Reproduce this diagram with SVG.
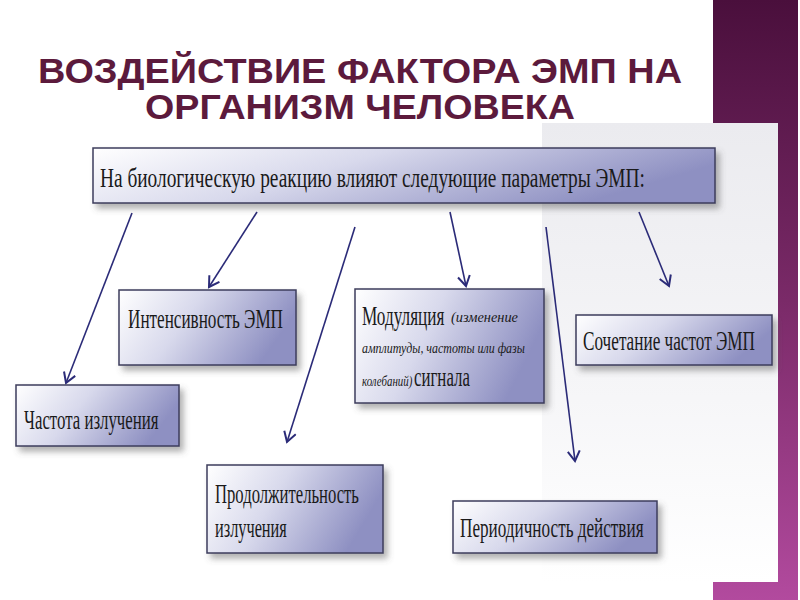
<svg xmlns="http://www.w3.org/2000/svg" width="800" height="600" viewBox="0 0 800 600">
<defs>
<linearGradient id="band" x1="0" y1="0" x2="0" y2="1">
<stop offset="0" stop-color="#4a0f3c"/>
<stop offset="0.5" stop-color="#7a2a68"/>
<stop offset="1" stop-color="#b24a9e"/>
</linearGradient>
<linearGradient id="gray" x1="0" y1="0" x2="0" y2="1">
<stop offset="0" stop-color="#ebebef"/>
<stop offset="0.6" stop-color="#f6f6f8"/>
<stop offset="1" stop-color="#ffffff"/>
</linearGradient>
<linearGradient id="boxfill" x1="0" y1="0" x2="1" y2="0.3">
<stop offset="0" stop-color="#ffffff"/>
<stop offset="0.45" stop-color="#d8d9ec"/>
<stop offset="1" stop-color="#8e90c2"/>
</linearGradient>
<filter id="sh" x="-10%" y="-20%" width="125%" height="150%">
<feDropShadow dx="4" dy="5" stdDeviation="3" flood-color="#555" flood-opacity="0.45"/>
</filter>
<marker id="arr" markerWidth="14" markerHeight="14" refX="11" refY="7" orient="auto" markerUnits="userSpaceOnUse">
<path d="M1,1 L11,7 L1,13" fill="none" stroke="#2b2b78" stroke-width="2"/>
</marker>
<style>
.title{font-family:"Liberation Sans","DejaVu Sans",sans-serif;font-weight:bold;font-size:35px;fill:#5c1a3c}
.box{fill:url(#boxfill);stroke:#3c3c5c;stroke-width:1.5;filter:url(#sh)}
.t{font-family:"Liberation Serif","DejaVu Serif",serif;font-size:27px;fill:#1a1a1a}
.it{font-family:"Liberation Serif","DejaVu Serif",serif;font-style:italic;font-size:15px;fill:#1a1a1a}
.ln{stroke:#2b2b78;stroke-width:1.6;fill:none;marker-end:url(#arr)}
</style>
</defs>
<rect width="800" height="600" fill="#ffffff"/>
<rect x="713" y="0" width="85" height="600" fill="url(#band)"/>
<rect x="542" y="123" width="236" height="459" fill="url(#gray)"/>

<g id="title">
<text class="title" x="38" y="83" textLength="644" lengthAdjust="spacingAndGlyphs">ВОЗДЕЙСТВИЕ ФАКТОРА ЭМП НА</text>
<text class="title" x="145" y="119" textLength="430" lengthAdjust="spacingAndGlyphs">ОРГАНИЗМ ЧЕЛОВЕКА</text>
</g>

<g id="connectors">
<line class="ln" x1="132" y1="213" x2="66" y2="383"/>
<line class="ln" x1="257" y1="212" x2="209" y2="287"/>
<line class="ln" x1="355" y1="227" x2="287" y2="442"/>
<line class="ln" x1="450" y1="212" x2="466" y2="286"/>
<line class="ln" x1="546" y1="227" x2="575" y2="461"/>
<line class="ln" x1="639" y1="212" x2="669" y2="286"/>
</g>

<g id="top">
<rect class="box" x="93" y="148" width="622" height="55"/>
<text class="t" transform="translate(100,187) scale(0.644,1)" font-size="31" textLength="846" lengthAdjust="spacingAndGlyphs">На биологическую реакцию влияют следующие параметры ЭМП:</text>
</g>

<g id="intensity">
<rect class="box" x="119" y="290" width="177" height="75"/>
<text class="t" transform="translate(128,328) scale(0.62,1)" textLength="250" lengthAdjust="spacingAndGlyphs">Интенсивность ЭМП</text>
</g>

<g id="frequency">
<rect class="box" x="16" y="385" width="163" height="61"/>
<text class="t" transform="translate(24,429) scale(0.59,1)" textLength="228" lengthAdjust="spacingAndGlyphs">Частота излучения</text>
</g>

<g id="modulation">
<rect class="box" x="355" y="289" width="189" height="114"/>
<text class="t" transform="translate(362,325) scale(0.58,1)" font-size="29" textLength="142" lengthAdjust="spacingAndGlyphs">Модуляция</text>
<text class="it" transform="translate(451,322) scale(0.93,1)" textLength="72" lengthAdjust="spacingAndGlyphs">(изменение</text>
<text class="it" transform="translate(362,353) scale(0.88,1)" font-size="16" textLength="185" lengthAdjust="spacingAndGlyphs">амплитуды, частоты или фазы</text>
<text class="it" transform="translate(362,386) scale(0.74,1)" textLength="68" lengthAdjust="spacingAndGlyphs">колебаний)</text>
<text class="t" transform="translate(414,386) scale(0.57,1)" font-size="28" textLength="98" lengthAdjust="spacingAndGlyphs">сигнала</text>
</g>

<g id="combination">
<rect class="box" x="576" y="315" width="196" height="50"/>
<text class="t" transform="translate(583,350) scale(0.61,1)" textLength="282" lengthAdjust="spacingAndGlyphs">Сочетание частот ЭМП</text>
</g>

<g id="duration">
<rect class="box" x="207" y="465" width="176" height="88"/>
<text class="t" transform="translate(215,503) scale(0.59,1)" font-size="28" textLength="244" lengthAdjust="spacingAndGlyphs">Продолжительность</text>
<text class="t" transform="translate(215,537) scale(0.57,1)" font-size="28" textLength="126" lengthAdjust="spacingAndGlyphs">излучения</text>
</g>

<g id="periodicity">
<rect class="box" x="453" y="501" width="204" height="52"/>
<text class="t" transform="translate(460,537) scale(0.62,1)" textLength="296" lengthAdjust="spacingAndGlyphs">Периодичность действия</text>
</g>
</svg>
